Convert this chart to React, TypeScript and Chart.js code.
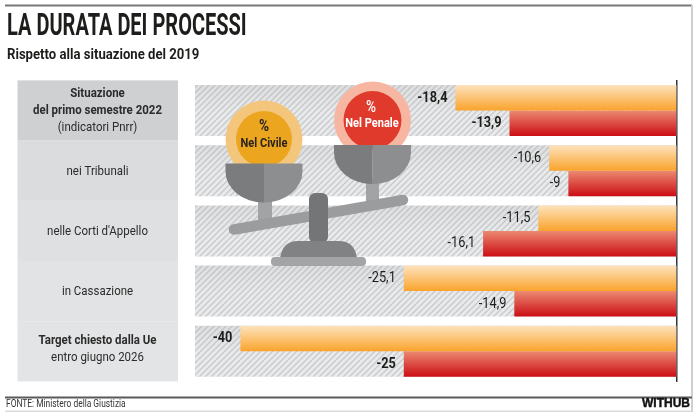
import React, { useEffect, useRef } from 'react';
import { Chart, registerables } from 'chart.js';

Chart.register(...registerables);

const FONT = 'Roboto, "Noto Sans", sans-serif';

const title = 'LA DURATA DEI PROCESSI';
const subtitle = 'Rispetto alla situazione del 2019';
const source = 'FONTE: Ministero della Giustizia';
const brand = 'WITHUB';

// righe della colonna sinistra
const categories = [
  ['Situazione', 'del primo semestre 2022', '(indicatori Pnrr)'],
  ['nei Tribunali'],
  ["nelle Corti d'Appello"],
  ['in Cassazione'],
  ['Target chiesto dalla Ue', 'entro giugno 2026'],
];
const boldLines = [2, 0, 0, 0, 1];
const labelShift = [0, 1, 0.5, 1, -2];
const panelColors = ['#cfd0d2', '#dadcde', '#dfe0e1', '#e2e3e4', '#e3e4e5'];

// Lunghezze delle barre come disegnate: nell'originale le ultime due righe
// sono in una scala più compressa, quindi non coincidono con le etichette.
const civileBars = [-18.4, -10.6, -11.5, -22.7, -36.3];
const penaleBars = [-13.9, -9, -16.1, -13.5, -22.7];
const fullBand = [-40.08, -40.08, -40.08, -40.08, -40.08];

// etichette stampate
const civileLabels = ['-18,4', '-10,6', '-11,5', '-25,1', '-40'];
const penaleLabels = ['-13,9', '-9', '-16,1', '-14,9', '-25'];
const boldRows = [0, 4];

function text(
  ctx: CanvasRenderingContext2D,
  str: string,
  x: number,
  y: number,
  font: string,
  color: string,
  align: CanvasTextAlign = 'left',
  sx = 0.85,
) {
  ctx.save();
  ctx.font = font;
  ctx.fillStyle = color;
  ctx.textAlign = align;
  ctx.textBaseline = 'middle';
  ctx.translate(x, y);
  ctx.scale(sx, 1);
  ctx.fillText(str, 0, 0);
  ctx.restore();
}

// tratteggio: la piastrella è alta una riga, con la metà superiore più scura
function hatch() {
  const w = 6;
  const h = 60;
  const c = document.createElement('canvas');
  c.width = w;
  c.height = h;
  const g = c.getContext('2d')!;
  g.fillStyle = '#e9eaeb';
  g.fillRect(0, 0, w, h);
  const shade = g.createLinearGradient(0, 25, 0, 51);
  shade.addColorStop(0, '#dddee0');
  shade.addColorStop(1, '#e9eaeb');
  g.fillStyle = shade;
  g.fillRect(0, 25, w, 26);
  g.strokeStyle = 'rgba(150,152,155,0.38)';
  g.lineWidth = 1.5;
  g.beginPath();
  for (let k = 0; k <= 11; k++) {
    g.moveTo(k * w, 0);
    g.lineTo(k * w - h, h);
  }
  g.stroke();
  return g.createPattern(c, 'repeat')!;
}

function barGradient(context: any, top: string, bottom: string, upper: boolean) {
  const { chart, dataIndex } = context;
  const mid = chart.scales.y?.getPixelForValue(dataIndex);
  // il contesto del dataset non ha un indice: serve solo il colore piatto
  if (!Number.isFinite(mid)) return bottom;
  const from = upper ? mid - 25.5 : mid;
  const grad = chart.ctx.createLinearGradient(0, from, 0, from + 25.5);
  grad.addColorStop(0, top);
  grad.addColorStop(1, bottom);
  return grad;
}

function cup(ctx: CanvasRenderingContext2D, cx: number, top: number, dark: string, light: string) {
  const r = 38.5;
  ctx.fillStyle = dark;
  ctx.beginPath();
  ctx.moveTo(cx, top);
  ctx.lineTo(cx - r, top);
  ctx.lineTo(cx - r, top + 8);
  ctx.ellipse(cx, top + 8, r, 31, 0, Math.PI, Math.PI / 2, true);
  ctx.closePath();
  ctx.fill();
  ctx.fillStyle = light;
  ctx.beginPath();
  ctx.moveTo(cx, top);
  ctx.lineTo(cx + r, top);
  ctx.lineTo(cx + r, top + 8);
  ctx.ellipse(cx, top + 8, r, 31, 0, 0, Math.PI / 2);
  ctx.closePath();
  ctx.fill();
}

function roundBox(ctx: CanvasRenderingContext2D, x: number, y: number, w: number, h: number, r: number, color: string) {
  ctx.fillStyle = color;
  ctx.beginPath();
  ctx.roundRect(x, y, w, h, r);
  ctx.fill();
}

// bilancia con i due piatti
function drawScale(ctx: CanvasRenderingContext2D) {
  ctx.save();
  ctx.fillStyle = '#a2a3a5';
  ctx.fillRect(258, 200, 14, 24);
  ctx.fillRect(366, 178, 13, 28);
  ctx.strokeStyle = '#9b9c9e';
  ctx.lineWidth = 10.5;
  ctx.lineCap = 'round';
  ctx.beginPath();
  ctx.moveTo(234, 229.5);
  ctx.lineTo(403, 200);
  ctx.stroke();

  ctx.fillStyle = '#f3c67c';
  ctx.beginPath();
  ctx.arc(264, 139, 38.5, 0, Math.PI * 2);
  ctx.fill();
  ctx.fillStyle = '#eba51f';
  ctx.beginPath();
  ctx.arc(264, 139, 28, 0, Math.PI * 2);
  ctx.fill();
  ctx.fillStyle = '#f6b6a2';
  ctx.beginPath();
  ctx.arc(372.5, 120, 38.5, 0, Math.PI * 2);
  ctx.fill();
  ctx.fillStyle = '#df3a2c';
  ctx.beginPath();
  ctx.arc(372.5, 120, 29, 0, Math.PI * 2);
  ctx.fill();

  cup(ctx, 264, 163.5, '#7b7c7e', '#8d8e90');
  cup(ctx, 372.5, 145, '#7b7c7e', '#8d8e90');

  roundBox(ctx, 309, 193, 19, 50, 6, '#747577');
  ctx.fillStyle = '#818284';
  ctx.beginPath();
  ctx.moveTo(280, 258);
  ctx.bezierCurveTo(282, 246, 288, 241, 298, 241);
  ctx.lineTo(339, 241);
  ctx.bezierCurveTo(349, 241, 355, 246, 357, 258);
  ctx.closePath();
  ctx.fill();
  roundBox(ctx, 271, 257, 95, 9, 4, '#a3a4a6');

  text(ctx, '%', 264, 127, `700 16px ${FONT}`, '#2a2420', 'center');
  text(ctx, 'Nel Civile', 264, 143.5, `700 13px ${FONT}`, '#2a2420', 'center');
  text(ctx, '%', 371, 108, `500 16px ${FONT}`, '#ffffff', 'center');
  text(ctx, 'Nel Penale', 372, 124, `700 13px ${FONT}`, '#ffffff', 'center');
  ctx.restore();
}

const backdrop = {
  id: 'backdrop',
  beforeDraw(chart: any) {
    const { ctx, scales } = chart;
    const step = scales.y.getPixelForValue(1) - scales.y.getPixelForValue(0);
    ctx.fillStyle = '#ffffff';
    ctx.fillRect(0, 0, 700, 418);

    // cornice
    ctx.fillStyle = '#77787a';
    ctx.fillRect(5, 4.5, 687, 2);
    ctx.fillStyle = '#d0d0d0';
    ctx.fillRect(691, 5, 2, 407);
    ctx.fillStyle = '#5a5a5c';
    ctx.fillRect(5, 396.5, 687, 2);
    ctx.fillStyle = '#dcdcdc';
    ctx.fillRect(5, 410.5, 687, 1.5);

    text(ctx, title, 7, 27.5, `700 31px ${FONT}`, '#1d1d1b', 'left', 0.645);
    text(ctx, subtitle, 7, 55, `700 15px ${FONT}`, '#1d1d1b', 'left', 0.875);
    text(ctx, source, 6, 404, `400 10.5px ${FONT}`, '#333333', 'left', 0.8);
    ctx.save();
    ctx.strokeStyle = '#111111';
    ctx.lineWidth = 0.4;
    ctx.font = `700 12px "Liberation Sans", Arial, sans-serif`;
    ctx.textAlign = 'right';
    ctx.textBaseline = 'middle';
    ctx.strokeText(brand, 690, 404);
    ctx.restore();
    text(ctx, brand, 690, 404, `700 12px "Liberation Sans", Arial, sans-serif`, '#111111', 'right', 1);

    // colonna sinistra
    categories.forEach((lines, i) => {
      const mid = scales.y.getPixelForValue(i);
      ctx.fillStyle = panelColors[i];
      ctx.fillRect(17.5, mid - step / 2, 160.5, step);
      lines.forEach((line, j) => {
        const y = mid + labelShift[i] + (j - (lines.length - 1) / 2) * 17;
        const weight = j < boldLines[i] ? 700 : 400;
        text(ctx, line, 97.5, y, `${weight} 13.5px ${FONT}`, '#2b2b2b', 'center');
      });
    });
  },
  afterDatasetsDraw(chart: any) {
    const { ctx } = chart;
    drawScale(ctx);
    [civileLabels, penaleLabels].forEach((labels, ds) => {
      // i dataset delle barre sono i primi due
      const bars = chart.getDatasetMeta(ds).data;
      labels.forEach((label, i) => {
        const bold = boldRows.includes(i);
        const font = `${bold ? 700 : 400} 15px ${FONT}`;
        text(ctx, label, bars[i].x - 8, bars[i].y, font, '#1d1d1b', 'right');
      });
    });
  },
};

export default function App() {
  const canvasRef = useRef<HTMLCanvasElement>(null);

  useEffect(() => {
    document.body.style.margin = '0';
    if (!canvasRef.current) return;

    const chart = new Chart(canvasRef.current, {
      type: 'bar',
      data: {
        labels: categories,
        datasets: [
          {
            label: 'Nel Civile',
            data: civileBars,
            order: 1,
            backgroundColor: (c: any) => barGradient(c, '#fde3bd', '#faa32c', true),
          },
          {
            label: 'Nel Penale',
            data: penaleBars,
            order: 1,
            backgroundColor: (c: any) => barGradient(c, '#ec8a72', '#cb0d14', false),
          },
          {
            label: 'Fondo',
            data: fullBand,
            order: 2,
            grouped: false,
            backgroundColor: hatch(),
          },
        ],
      },
      options: {
        indexAxis: 'y',
        responsive: false,
        animation: false,
        categoryPercentage: 0.847,
        barPercentage: 1,
        layout: { padding: { left: 195, right: 15.5, top: 80.4, bottom: 36.6 } },
        plugins: {
          legend: { display: false },
          tooltip: { enabled: false },
        },
        scales: {
          x: { display: false, min: -40.08, max: 0 },
          y: {
            position: 'right',
            grid: { display: false },
            ticks: { display: false },
            border: { color: '#33343a', width: 1.5 },
          },
        },
      } as any,
      plugins: [backdrop],
    });

    return () => chart.destroy();
  }, []);

  return <canvas ref={canvasRef} width={700} height={418} style={{ display: 'block' }} />;
}
